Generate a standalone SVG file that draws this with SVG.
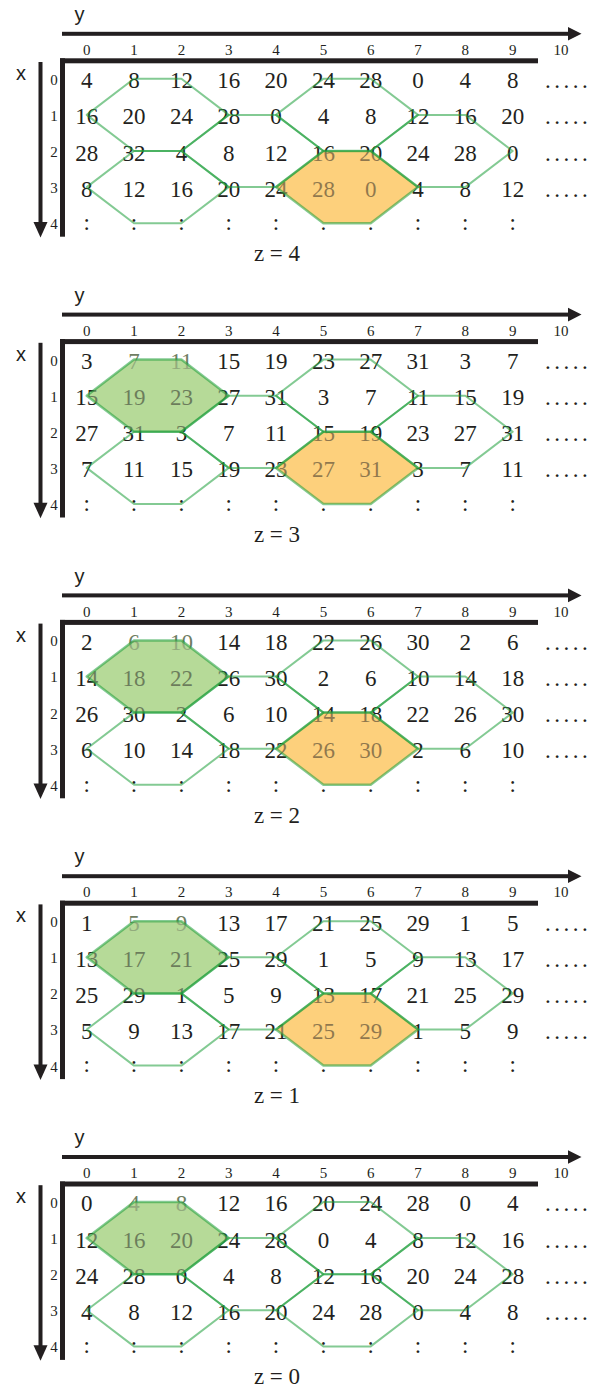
<svg xmlns="http://www.w3.org/2000/svg" xmlns:xlink="http://www.w3.org/1999/xlink" width="589" height="1393" viewBox="0 0 589 1393" font-family="'Liberation Serif', 'Times New Roman', 'DejaVu Serif', serif">
<style>
.num{font-family:'Liberation Serif','Times New Roman','DejaVu Serif',serif;font-size:23px;fill:#231f20;text-anchor:middle}
.idx{font-family:'Liberation Serif','Times New Roman','DejaVu Serif',serif;font-size:15px;fill:#231f20;text-anchor:middle}
.ax{font-family:'Liberation Sans',Arial,sans-serif;font-size:20px;fill:#231f20;text-anchor:middle}
.dots{font-family:'Liberation Serif','Times New Roman','DejaVu Serif',serif;font-size:23px;fill:#231f20;letter-spacing:3.5px}
.zl{font-family:'Liberation Serif','Times New Roman','DejaVu Serif',serif;font-size:23px;fill:#231f20;text-anchor:middle}
.dimg{fill:#6f7d62}
.edge{fill:none;stroke:#1e9e3a;stroke-opacity:0.55;stroke-width:2;stroke-linejoin:round}
.edgeF{fill:none;stroke:#1e9e3a;stroke-opacity:0.55;stroke-width:2.5;stroke-linejoin:round}
.fo{fill:#fdd07c}
.fg{fill:#b6da98}
.ovo{fill:#fdd07c;opacity:0.5}
.ovg{fill:#b6da98;opacity:0.5}
</style>
<defs>
<polygon id="hA" points="86.7,114.9 134,78.8 181.4,78.8 228.7,114.9 181.4,151 134,151"/>
<polygon id="hB" points="86.7,187.1 134,151 181.4,151 228.7,187.1 181.4,223.2 134,223.2"/>
<polygon id="hM1" points="181.4,151 228.7,114.9 276,114.9 323.4,151 276,187.1 228.7,187.1"/>
<polygon id="hC" points="276,114.9 323.4,78.8 370.7,78.8 418,114.9 370.7,151 323.4,151"/>
<polygon id="hD" points="276,187.1 323.4,151 370.7,151 418,187.1 370.7,223.2 323.4,223.2"/>
<polygon id="hM2" points="370.7,151 418,114.9 465.3,114.9 512.7,151 465.3,187.1 418,187.1"/>
<g id="frame">
<g fill="#231f20" stroke="none">
<rect x="62" y="31.8" width="507" height="4"/>
<polygon points="568,27 581.5,33.8 568,40.6"/>
<rect x="60" y="58.3" width="478" height="5"/>
<rect x="60" y="58.3" width="5" height="178.4"/>
<rect x="38.5" y="62" width="4" height="162"/>
<polygon points="33.5,222 47.5,222 40.5,237.5"/>
</g>
<text class="ax" x="79.5" y="21">y</text>
<text class="ax" x="21" y="80">x</text>
<text class="idx" y="55"><tspan x="86.7">0</tspan><tspan x="134">1</tspan><tspan x="181.4">2</tspan><tspan x="228.7">3</tspan><tspan x="276">4</tspan><tspan x="323.4">5</tspan><tspan x="370.7">6</tspan><tspan x="418">7</tspan><tspan x="465.3">8</tspan><tspan x="512.7">9</tspan><tspan x="561">10</tspan></text>
<text class="idx"><tspan x="54" y="84.8">0</tspan><tspan x="54" y="120.9">1</tspan><tspan x="54" y="157">2</tspan><tspan x="54" y="193.1">3</tspan><tspan x="54" y="229.2">4</tspan></text>
<text class="num" y="230"><tspan x="86.7">:</tspan><tspan x="134">:</tspan><tspan x="181.4">:</tspan><tspan x="228.7">:</tspan><tspan x="276">:</tspan><tspan x="323.4">:</tspan><tspan x="370.7">:</tspan><tspan x="418">:</tspan><tspan x="465.3">:</tspan><tspan x="512.7">:</tspan></text>
<text class="dots"><tspan x="545" y="88.3">......</tspan><tspan x="545" y="124.4">......</tspan><tspan x="545" y="160.5">......</tspan><tspan x="545" y="196.6">......</tspan></text>
</g>
</defs>

<g id="panel-z4">
<use xlink:href="#frame"/>
<use xlink:href="#hD" class="fo"/>
<g id="cells-z4">
<text class="num" y="88.3"><tspan x="86.7">4</tspan><tspan x="134">8</tspan><tspan x="181.4">12</tspan><tspan x="228.7">16</tspan><tspan x="276">20</tspan><tspan x="323.4">24</tspan><tspan x="370.7">28</tspan><tspan x="418">0</tspan><tspan x="465.3">4</tspan><tspan x="512.7">8</tspan></text>
<text class="num" y="124.4"><tspan x="86.7">16</tspan><tspan x="134">20</tspan><tspan x="181.4">24</tspan><tspan x="228.7">28</tspan><tspan x="276">0</tspan><tspan x="323.4">4</tspan><tspan x="370.7">8</tspan><tspan x="418">12</tspan><tspan x="465.3">16</tspan><tspan x="512.7">20</tspan></text>
<text class="num" y="160.5"><tspan x="86.7">28</tspan><tspan x="134">32</tspan><tspan x="181.4">4</tspan><tspan x="228.7">8</tspan><tspan x="276">12</tspan><tspan x="323.4">16</tspan><tspan x="370.7">20</tspan><tspan x="418">24</tspan><tspan x="465.3">28</tspan><tspan x="512.7">0</tspan></text>
<text class="num" y="196.6"><tspan x="86.7">8</tspan><tspan x="134">12</tspan><tspan x="181.4">16</tspan><tspan x="228.7">20</tspan><tspan x="276">24</tspan><tspan x="323.4">28</tspan><tspan x="370.7">0</tspan><tspan x="418">4</tspan><tspan x="465.3">8</tspan><tspan x="512.7">12</tspan></text>
</g>
<use xlink:href="#hD" class="ovo"/>
<g id="edges-z4">
<use xlink:href="#hA" class="edge"/><use xlink:href="#hB" class="edge"/><use xlink:href="#hM1" class="edge"/><use xlink:href="#hC" class="edge"/><use xlink:href="#hM2" class="edge"/><use xlink:href="#hD" class="edgeF"/>
</g>
<text class="zl" x="277" y="261">z = 4</text>
</g>

<g id="panel-z3" transform="translate(0,280.8)">
<use xlink:href="#frame"/>
<use xlink:href="#hA" class="fg"/><use xlink:href="#hD" class="fo"/>
<g id="cells-z3">
<text class="num" y="88.3"><tspan x="86.7">3</tspan><tspan x="134" class="dimg">7</tspan><tspan x="181.4" class="dimg">11</tspan><tspan x="228.7">15</tspan><tspan x="276">19</tspan><tspan x="323.4">23</tspan><tspan x="370.7">27</tspan><tspan x="418">31</tspan><tspan x="465.3">3</tspan><tspan x="512.7">7</tspan></text>
<text class="num" y="124.4"><tspan x="86.7">15</tspan><tspan x="134">19</tspan><tspan x="181.4">23</tspan><tspan x="228.7">27</tspan><tspan x="276">31</tspan><tspan x="323.4">3</tspan><tspan x="370.7">7</tspan><tspan x="418">11</tspan><tspan x="465.3">15</tspan><tspan x="512.7">19</tspan></text>
<text class="num" y="160.5"><tspan x="86.7">27</tspan><tspan x="134">31</tspan><tspan x="181.4">3</tspan><tspan x="228.7">7</tspan><tspan x="276">11</tspan><tspan x="323.4">15</tspan><tspan x="370.7">19</tspan><tspan x="418">23</tspan><tspan x="465.3">27</tspan><tspan x="512.7">31</tspan></text>
<text class="num" y="196.6"><tspan x="86.7">7</tspan><tspan x="134">11</tspan><tspan x="181.4">15</tspan><tspan x="228.7">19</tspan><tspan x="276">23</tspan><tspan x="323.4">27</tspan><tspan x="370.7">31</tspan><tspan x="418">3</tspan><tspan x="465.3">7</tspan><tspan x="512.7">11</tspan></text>
</g>
<use xlink:href="#hA" class="ovg"/><use xlink:href="#hD" class="ovo"/>
<g id="edges-z3">
<use xlink:href="#hB" class="edge"/><use xlink:href="#hM1" class="edge"/><use xlink:href="#hC" class="edge"/><use xlink:href="#hM2" class="edge"/><use xlink:href="#hA" class="edgeF"/><use xlink:href="#hD" class="edgeF"/>
</g>
<text class="zl" x="277" y="261">z = 3</text>
</g>

<g id="panel-z2" transform="translate(0,561.6)">
<use xlink:href="#frame"/>
<use xlink:href="#hA" class="fg"/><use xlink:href="#hD" class="fo"/>
<g id="cells-z2">
<text class="num" y="88.3"><tspan x="86.7">2</tspan><tspan x="134" class="dimg">6</tspan><tspan x="181.4" class="dimg">10</tspan><tspan x="228.7">14</tspan><tspan x="276">18</tspan><tspan x="323.4">22</tspan><tspan x="370.7">26</tspan><tspan x="418">30</tspan><tspan x="465.3">2</tspan><tspan x="512.7">6</tspan></text>
<text class="num" y="124.4"><tspan x="86.7">14</tspan><tspan x="134">18</tspan><tspan x="181.4">22</tspan><tspan x="228.7">26</tspan><tspan x="276">30</tspan><tspan x="323.4">2</tspan><tspan x="370.7">6</tspan><tspan x="418">10</tspan><tspan x="465.3">14</tspan><tspan x="512.7">18</tspan></text>
<text class="num" y="160.5"><tspan x="86.7">26</tspan><tspan x="134">30</tspan><tspan x="181.4">2</tspan><tspan x="228.7">6</tspan><tspan x="276">10</tspan><tspan x="323.4">14</tspan><tspan x="370.7">18</tspan><tspan x="418">22</tspan><tspan x="465.3">26</tspan><tspan x="512.7">30</tspan></text>
<text class="num" y="196.6"><tspan x="86.7">6</tspan><tspan x="134">10</tspan><tspan x="181.4">14</tspan><tspan x="228.7">18</tspan><tspan x="276">22</tspan><tspan x="323.4">26</tspan><tspan x="370.7">30</tspan><tspan x="418">2</tspan><tspan x="465.3">6</tspan><tspan x="512.7">10</tspan></text>
</g>
<use xlink:href="#hA" class="ovg"/><use xlink:href="#hD" class="ovo"/>
<g id="edges-z2">
<use xlink:href="#hB" class="edge"/><use xlink:href="#hM1" class="edge"/><use xlink:href="#hC" class="edge"/><use xlink:href="#hM2" class="edge"/><use xlink:href="#hA" class="edgeF"/><use xlink:href="#hD" class="edgeF"/>
</g>
<text class="zl" x="277" y="261">z = 2</text>
</g>

<g id="panel-z1" transform="translate(0,842.4)">
<use xlink:href="#frame"/>
<use xlink:href="#hA" class="fg"/><use xlink:href="#hD" class="fo"/>
<g id="cells-z1">
<text class="num" y="88.3"><tspan x="86.7">1</tspan><tspan x="134" class="dimg">5</tspan><tspan x="181.4" class="dimg">9</tspan><tspan x="228.7">13</tspan><tspan x="276">17</tspan><tspan x="323.4">21</tspan><tspan x="370.7">25</tspan><tspan x="418">29</tspan><tspan x="465.3">1</tspan><tspan x="512.7">5</tspan></text>
<text class="num" y="124.4"><tspan x="86.7">13</tspan><tspan x="134">17</tspan><tspan x="181.4">21</tspan><tspan x="228.7">25</tspan><tspan x="276">29</tspan><tspan x="323.4">1</tspan><tspan x="370.7">5</tspan><tspan x="418">9</tspan><tspan x="465.3">13</tspan><tspan x="512.7">17</tspan></text>
<text class="num" y="160.5"><tspan x="86.7">25</tspan><tspan x="134">29</tspan><tspan x="181.4">1</tspan><tspan x="228.7">5</tspan><tspan x="276">9</tspan><tspan x="323.4">13</tspan><tspan x="370.7">17</tspan><tspan x="418">21</tspan><tspan x="465.3">25</tspan><tspan x="512.7">29</tspan></text>
<text class="num" y="196.6"><tspan x="86.7">5</tspan><tspan x="134">9</tspan><tspan x="181.4">13</tspan><tspan x="228.7">17</tspan><tspan x="276">21</tspan><tspan x="323.4">25</tspan><tspan x="370.7">29</tspan><tspan x="418">1</tspan><tspan x="465.3">5</tspan><tspan x="512.7">9</tspan></text>
</g>
<use xlink:href="#hA" class="ovg"/><use xlink:href="#hD" class="ovo"/>
<g id="edges-z1">
<use xlink:href="#hB" class="edge"/><use xlink:href="#hM1" class="edge"/><use xlink:href="#hC" class="edge"/><use xlink:href="#hM2" class="edge"/><use xlink:href="#hA" class="edgeF"/><use xlink:href="#hD" class="edgeF"/>
</g>
<text class="zl" x="277" y="261">z = 1</text>
</g>

<g id="panel-z0" transform="translate(0,1123.2)">
<use xlink:href="#frame"/>
<use xlink:href="#hA" class="fg"/>
<g id="cells-z0">
<text class="num" y="88.3"><tspan x="86.7">0</tspan><tspan x="134" class="dimg">4</tspan><tspan x="181.4" class="dimg">8</tspan><tspan x="228.7">12</tspan><tspan x="276">16</tspan><tspan x="323.4">20</tspan><tspan x="370.7">24</tspan><tspan x="418">28</tspan><tspan x="465.3">0</tspan><tspan x="512.7">4</tspan></text>
<text class="num" y="124.4"><tspan x="86.7">12</tspan><tspan x="134">16</tspan><tspan x="181.4">20</tspan><tspan x="228.7">24</tspan><tspan x="276">28</tspan><tspan x="323.4">0</tspan><tspan x="370.7">4</tspan><tspan x="418">8</tspan><tspan x="465.3">12</tspan><tspan x="512.7">16</tspan></text>
<text class="num" y="160.5"><tspan x="86.7">24</tspan><tspan x="134">28</tspan><tspan x="181.4">0</tspan><tspan x="228.7">4</tspan><tspan x="276">8</tspan><tspan x="323.4">12</tspan><tspan x="370.7">16</tspan><tspan x="418">20</tspan><tspan x="465.3">24</tspan><tspan x="512.7">28</tspan></text>
<text class="num" y="196.6"><tspan x="86.7">4</tspan><tspan x="134">8</tspan><tspan x="181.4">12</tspan><tspan x="228.7">16</tspan><tspan x="276">20</tspan><tspan x="323.4">24</tspan><tspan x="370.7">28</tspan><tspan x="418">0</tspan><tspan x="465.3">4</tspan><tspan x="512.7">8</tspan></text>
</g>
<use xlink:href="#hA" class="ovg"/>
<g id="edges-z0">
<use xlink:href="#hB" class="edge"/><use xlink:href="#hM1" class="edge"/><use xlink:href="#hC" class="edge"/><use xlink:href="#hM2" class="edge"/><use xlink:href="#hD" class="edge"/><use xlink:href="#hA" class="edgeF"/>
</g>
<text class="zl" x="277" y="261">z = 0</text>
</g>
</svg>
